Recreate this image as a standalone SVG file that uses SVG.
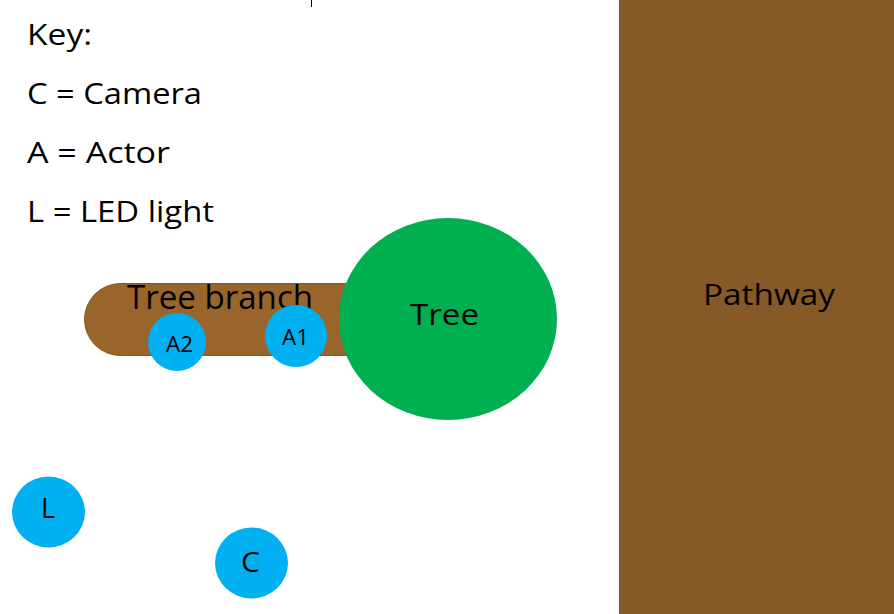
<svg xmlns="http://www.w3.org/2000/svg" width="894" height="614" viewBox="0 0 894 614">
<style>
text{font-family:"Open Sans","Noto Sans","Liberation Sans",sans-serif;fill:#000}
.key{font-size:30px}
.person{fill:#00b0f0}
</style>
<rect width="894" height="614" fill="#fff"/>
<line x1="311.5" y1="0" x2="311.5" y2="7" stroke="#000" stroke-width="1"/>
<g id="key">
<text class="key" x="27" y="45" textLength="65" lengthAdjust="spacingAndGlyphs">Key:</text>
<text class="key" x="27" y="104" textLength="175" lengthAdjust="spacingAndGlyphs">C = Camera</text>
<text class="key" x="27" y="163" textLength="143" lengthAdjust="spacingAndGlyphs">A = Actor</text>
<text class="key" x="27" y="222" textLength="187" lengthAdjust="spacingAndGlyphs">L = LED light</text>
</g>
<g id="pathway">
<rect x="619" y="0" width="275" height="614" fill="#865a26"/>
<text x="703" y="305" font-size="30" textLength="132" lengthAdjust="spacingAndGlyphs">Pathway</text>
</g>
<g id="branch">
<rect x="84.5" y="283.5" width="300" height="72" rx="36" ry="36" fill="#99652a" stroke="#7f5a1e" stroke-width="1"/>
<text x="127" y="309" font-size="32" textLength="186" lengthAdjust="spacingAndGlyphs">Tree branch</text>
</g>
<g id="tree">
<ellipse cx="448" cy="319" rx="109" ry="101" fill="#00b050"/>
<text x="410" y="325" font-size="30" textLength="69" lengthAdjust="spacingAndGlyphs">Tree</text>
</g>
<g id="A2">
<circle class="person" cx="177" cy="342" r="29"/>
<text x="166" y="352" font-size="22" textLength="27" lengthAdjust="spacingAndGlyphs">A2</text>
</g>
<g id="A1">
<circle class="person" cx="296" cy="336" r="31"/>
<text x="282" y="345" font-size="22" textLength="27" lengthAdjust="spacingAndGlyphs">A1</text>
</g>
<g id="L">
<ellipse class="person" cx="48.5" cy="512" rx="36.5" ry="35.5"/>
<text x="41" y="518" font-size="28" textLength="14" lengthAdjust="spacingAndGlyphs">L</text>
</g>
<g id="C">
<ellipse class="person" cx="251.5" cy="563" rx="36.5" ry="35.5"/>
<text x="241" y="572" font-size="28" textLength="19" lengthAdjust="spacingAndGlyphs">C</text>
</g>
<g id="connectors"></g>
</svg>
